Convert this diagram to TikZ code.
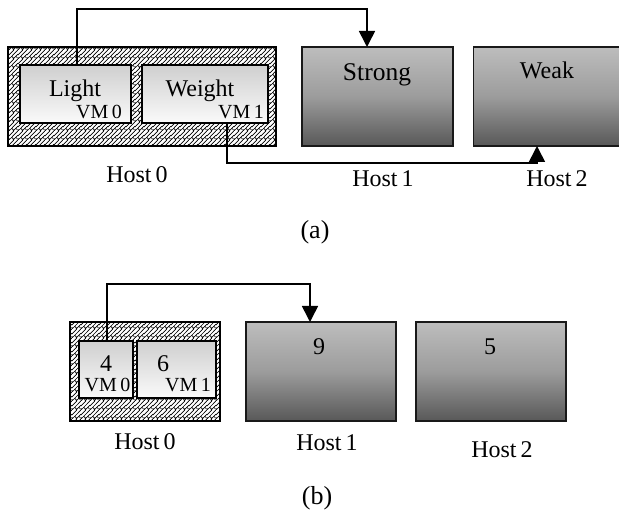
\documentclass[tikz,border=0pt]{standalone}
\usepackage{fontspec}
\setmainfont{Liberation Serif}
\usetikzlibrary{patterns.meta,arrows.meta,calc}

\tikzdeclarepattern{
  name=vbricks,
  type=uncolored,
  bounding box={(0pt,0pt) and (9pt,9pt)},
  tile size={(9pt,9pt)},
  code={
    \draw[line width=0.75pt]
      (-0.8pt,-0.8pt) -- (9.8pt,9.8pt)
      (3.7pt,-0.8pt) -- (9.8pt,5.3pt)
      (-0.8pt,3.7pt) -- (5.3pt,9.8pt)
      (3pt,3pt) -- (5.25pt,0.75pt)
      (-1.5pt,3pt) -- (0.75pt,0.75pt)
      (7.5pt,3pt) -- (9.75pt,0.75pt);
  }
}

\definecolor{vmtop}{HTML}{CFCFCF}
\definecolor{vmbot}{HTML}{FAFAFA}
\definecolor{srvtop}{HTML}{BDBDBD}
\definecolor{srvmid}{HTML}{9C9C9C}
\definecolor{srvbot}{HTML}{585858}

\begin{document}
\begin{tikzpicture}[x=1pt,y=-1pt,
  hostbg/.style={draw=black, line width=1.6pt, inner sep=0pt, outer sep=0pt,
    preaction={fill=white}, pattern=vbricks, pattern color=black},
  vmbox/.style={draw=black, line width=1.6pt, inner sep=0pt, outer sep=0pt,
    top color=vmtop, bottom color=vmbot},
  srvbox/.style={draw=black!90, line width=1.6pt, inner sep=0pt, outer sep=0pt,
    top color=srvtop, bottom color=srvbot, middle color=srvmid},
  txt/.style={inner sep=0pt, anchor=base, font=\fontsize{24}{28}\selectfont},
  sm/.style={inner sep=0pt, anchor=base, font=\fontsize{20}{24}\selectfont},
  captext/.style={inner sep=0pt, anchor=base, font=\fontsize{26}{30}\selectfont},
  conn/.style={line width=1.6pt, -{Triangle[width=16pt,length=16pt]}}
]
\useasboundingbox (0,0) rectangle (619,518);
\clip (0,0) rectangle (619,518);

% ---------- (a) ----------
\node[hostbg, minimum width=268pt, minimum height=99pt] (h0a) at (142,96.5) {};
\node[vmbox, minimum width=111pt, minimum height=58pt] (light) at (75.5,94) {};
\node[vmbox, minimum width=126pt, minimum height=58pt] (weight) at (205,94) {};
\node[srvbox, minimum width=151pt, minimum height=99pt] (strong) at (377.5,96.5) {};
\node[srvbox, minimum width=151pt, minimum height=99pt] (weak) at (549,96.5) {};

\node[txt] (tlight) at (75,97) {Light};
\node[sm] (tvm0a) at (99,119) {VM\,0};
\node[txt] (tweight) at (200,97) {Weight};
\node[sm] (tvm1a) at (241,119) {VM\,1};
\node[txt, font=\fontsize{25.5}{30}\selectfont] (tstrong) at (377,81) {Strong};
\node[txt] (tweak) at (547,79) {Weak};

\node[txt] (lh0a) at (137,183) {Host\,0};
\node[txt] (lh1a) at (383,187) {Host\,1};
\node[txt] (lh2a) at (557,187) {Host\,2};
\node[captext] (capa) at (315,239) {(a)};

\draw[conn] ([xshift=1.5pt]light.north) |- ($(strong.north)+(-10.5,-38)$)
  -- ([xshift=-10.5pt]strong.north);
\draw[conn] ([xshift=22pt]weight.south) |- ($(weak.south)+(-12,17)$)
  -- ([xshift=-12pt]weak.south);

% ---------- (b) ----------
\node[hostbg, minimum width=150pt, minimum height=99pt] (h0b) at (145,371.5) {};
\node[vmbox, minimum width=54pt, minimum height=57pt] (vm0b) at (106,369.5) {};
\node[vmbox, minimum width=79pt, minimum height=57pt] (vm1b) at (176.5,369.5) {};
\node[srvbox, minimum width=150pt, minimum height=99pt] (h1b) at (321,371.5) {};
\node[srvbox, minimum width=150pt, minimum height=99pt] (h2b) at (491,371.5) {};

\node[txt] (t4) at (106,372) {4};
\node[sm] (tvm0b) at (107.5,392) {VM\,0};
\node[txt] (t6) at (163,372) {6};
\node[sm] (tvm1b) at (188,392) {VM\,1};
\node[txt] (t9) at (319,355) {9};
\node[txt] (t5) at (490,355) {5};

\node[txt] (lh0b) at (145,450) {Host\,0};
\node[txt] (lh1b) at (327,451) {Host\,1};
\node[txt] (lh2b) at (502,458) {Host\,2};
\node[captext] (capb) at (317,505) {(b)};

\draw[conn] ([xshift=1pt]vm0b.north) |- ($(h1b.north)+(-11,-38)$)
  -- ([xshift=-11pt]h1b.north);
\end{tikzpicture}
\end{document}
